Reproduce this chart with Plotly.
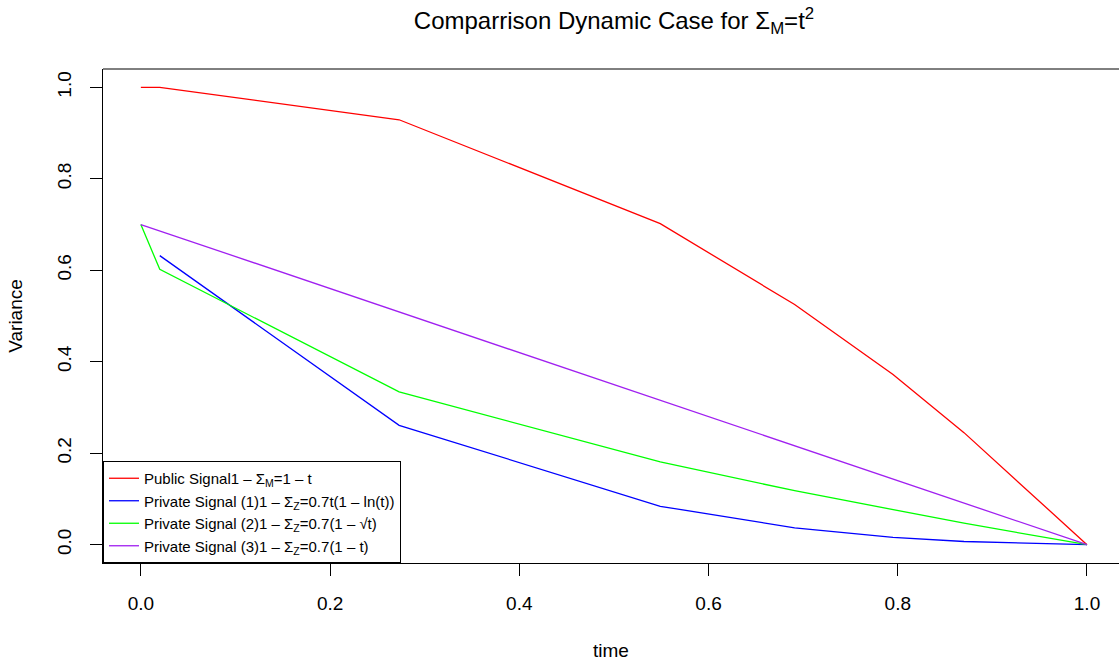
import plotly.graph_objects as go

time = [0.0, 0.02, 0.273, 0.549, 0.691, 0.795, 0.87, 1.0]
public_signal = [1.0, 1.0, 0.929, 0.702, 0.525, 0.372, 0.245, 0.0]
private_1 = [None, 0.632, 0.261, 0.084, 0.037, 0.016, 0.007, 0.0]
private_2 = [0.70, 0.602, 0.334, 0.181, 0.118, 0.076, 0.047, 0.0]
private_3 = [0.70, 0.686, 0.509, 0.316, 0.216, 0.144, 0.091, 0.0]

names = [
    "Public Signal1 \u2013 \u03a3<sub>M</sub>=1 \u2013 t",
    "Private Signal (1)1 \u2013 \u03a3<sub>Z</sub>=0.7t(1 \u2013 ln(t))",
    "Private Signal (2)1 \u2013 \u03a3<sub>Z</sub>=0.7(1 \u2013 \u221at)",
    "Private Signal (3)1 \u2013 \u03a3<sub>Z</sub>=0.7(1 \u2013 t)",
]
colors = ["#FF0000", "#0000FF", "#00FF00", "#A020F0"]
series = [public_signal, private_1, private_2, private_3]

xtick_vals = [0.0, 0.2, 0.4, 0.6, 0.8, 1.0]
ytick_vals = [0.0, 0.2, 0.4, 0.6, 0.8, 1.0]

FONT = "Liberation Sans, Arial, Helvetica, sans-serif"

fig = go.Figure()
for name, col, ys in zip(names, colors, series):
    fig.add_trace(go.Scatter(x=time, y=ys, mode="lines", name=name,
                             line=dict(color=col, width=1.3),
                             connectgaps=False))

fig.update_layout(
    width=1119, height=664,
    margin=dict(l=103, r=0, t=69, b=101),
    paper_bgcolor="white", plot_bgcolor="white",
    font=dict(family=FONT, size=19, color="black"),
    title=dict(text="Comparrison Dynamic Case for \u03a3<sub>M</sub>=t<sup>2</sup>",
               x=614/1119, xanchor="center", xref="container",
               y=1 - 21/664, yanchor="middle", yref="container",
               font=dict(size=24, family=FONT, color="black")),
    showlegend=True,
    legend=dict(x=0, y=0, xanchor="left", yanchor="bottom",
                xref="paper", yref="paper",
                bordercolor="black", borderwidth=1, bgcolor="white",
                font=dict(size=15, family=FONT, color="black"),
                tracegroupgap=0, itemwidth=30),
    xaxis=dict(range=[-0.04, (1119 - 141) / 946], tickvals=xtick_vals,
               tickformat=".1f", ticks="outside", ticklen=12, tickcolor="black",
               showline=True, linecolor="black", linewidth=1, mirror=False,
               showgrid=False, zeroline=False, ticklabelstandoff=11,
               tickfont=dict(size=19, family=FONT),
               title=dict(text="time", standoff=30,
                          font=dict(size=19, family=FONT))),
    yaxis=dict(range=[-0.04, 1.04], tickvals=ytick_vals,
               tickformat=".1f", ticks="outside", ticklen=12, tickcolor="black",
               tickangle=-90,
               showline=True, linecolor="black", linewidth=1, mirror=False,
               showgrid=False, zeroline=False, ticklabelstandoff=11,
               tickfont=dict(size=19, family=FONT),
               title=dict(text="Variance", standoff=26,
                          font=dict(size=19, family=FONT))),
    shapes=[dict(type="line", xref="paper", yref="paper", x0=0, x1=1, y0=1, y1=1,
                 line=dict(color="black", width=1))],
)

fig.write_html("out.html")
